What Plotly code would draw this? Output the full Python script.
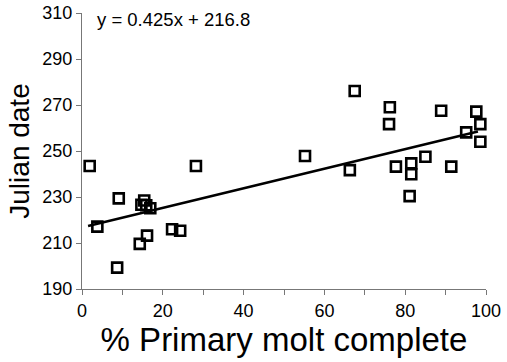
import plotly.graph_objects as go

molt_pct = [1.9, 28.2, 9.1, 15.4, 14.7, 15.9, 16.9, 3.8, 16.1, 14.3, 22.3, 24.3, 8.7,
            67.5, 55.2, 66.3,
            76.2, 76.0, 88.9, 97.6, 98.6, 95.1, 98.6, 77.7, 81.5, 85.0, 81.5, 81.1, 91.4]
julian = [243.5, 243.5, 229.4, 228.5, 226.6, 226.4, 225.1, 217.1, 213.2, 209.6, 216.0, 215.3, 199.3,
          276.1, 247.8, 241.7,
          269.0, 261.7, 267.5, 267.1, 261.7, 258.1, 254.0, 243.2, 244.6, 247.5, 239.9, 230.4, 243.2]

slope = 0.425
intercept = 216.8
fit_x = [1.5, 98.0]
fit_y = [slope * x + intercept for x in fit_x]

FONT = "Liberation Sans, Arial, sans-serif"

fig = go.Figure()
fig.add_trace(go.Scatter(
    x=molt_pct, y=julian, mode="markers",
    marker=dict(symbol="square-open", size=10, color="black", line=dict(width=2.6, color="black")),
    showlegend=False, cliponaxis=False,
))
fig.add_trace(go.Scatter(
    x=fit_x, y=fit_y, mode="lines",
    line=dict(color="black", width=2.6), showlegend=False,
))

fig.update_layout(
    width=507, height=362,
    margin=dict(l=82, r=21, t=13, b=73, autoexpand=False),
    paper_bgcolor="white", plot_bgcolor="white",
    font=dict(family=FONT, color="black"),
    annotations=[dict(
        text=f"y = {slope}x + {intercept}", x=0.031, y=0.975, xref="paper", yref="paper",
        xanchor="left", yanchor="middle", showarrow=False, font=dict(size=18.5, family=FONT, color="black"),
    )],
)
fig.update_xaxes(
    range=[0, 100], dtick=20, tick0=0, showgrid=False, zeroline=False,
    showline=True, linecolor="#777", linewidth=1, automargin=False,
    ticks="outside", ticklen=5, tickcolor="#777",
    minor=dict(dtick=10, ticks="outside", ticklen=5, tickcolor="#777", showgrid=False),
    tickfont=dict(size=18, family=FONT, color="black"),
    title=dict(text="% Primary molt complete", font=dict(size=33, family=FONT, color="black"), standoff=5),
)
fig.update_yaxes(
    range=[190, 310], dtick=20, tick0=190, showgrid=False, zeroline=False,
    showline=True, linecolor="#777", linewidth=1, automargin=False,
    ticks="outside", ticklen=5, tickcolor="#777",
    tickfont=dict(size=18, family=FONT, color="black"),
    title=dict(text="Julian date", font=dict(size=28, family=FONT, color="black"), standoff=4),
)

fig.write_html("out.html")
